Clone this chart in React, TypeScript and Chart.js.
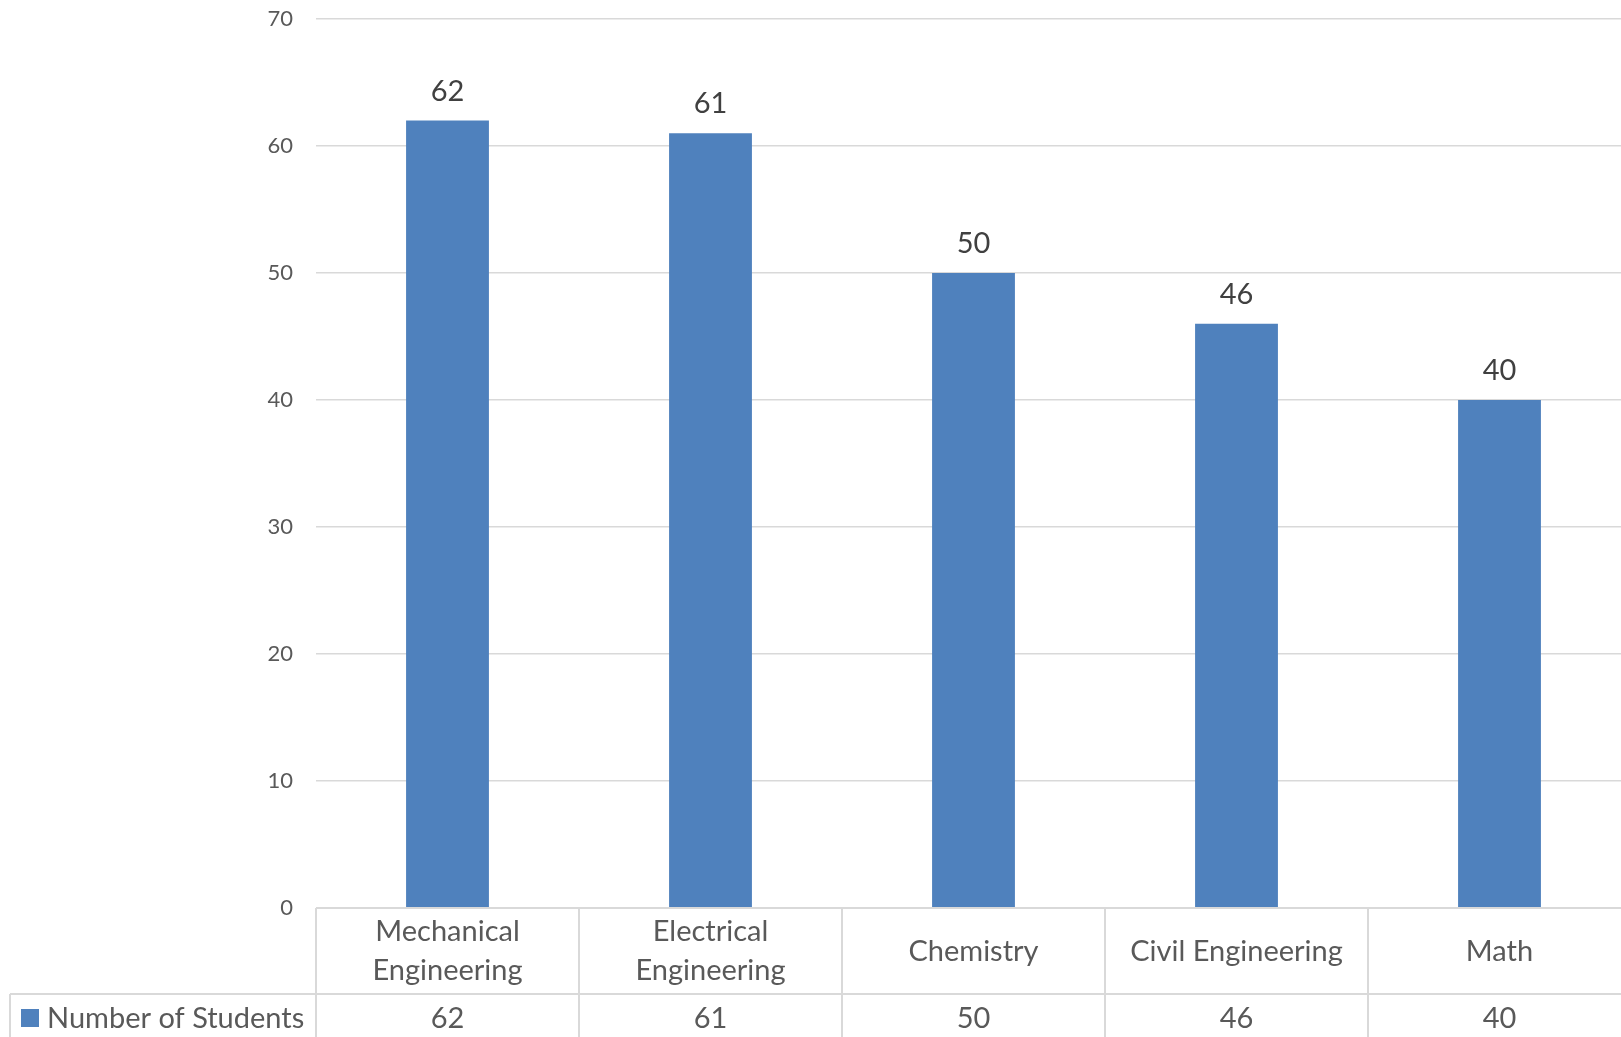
import React, { useEffect, useRef } from "react";
import { Chart, registerables } from "chart.js";

Chart.register(...registerables);

// ---- data ----
const categories = [
  "Mechanical Engineering",
  "Electrical Engineering",
  "Chemistry",
  "Civil Engineering",
  "Math",
];
const categoryLines = [
  ["Mechanical", "Engineering"],
  ["Electrical", "Engineering"],
  ["Chemistry"],
  ["Civil Engineering"],
  ["Math"],
];
const studentCounts = [62, 61, 50, 46, 40];
const seriesName = "Number of Students";
const yMin = 0;
const yMax = 70;
const yStep = 10;

const FONT = "Lato, 'Noto Sans', sans-serif";
const BAR = "#4f81bd";
const GRID = "#d9d9d9";

const dataLabelPlugin = {
  id: "dataLabels",
  afterDatasetsDraw(chart: any) {
    const ctx = chart.ctx;
    const meta = chart.getDatasetMeta(0);
    ctx.save();
    ctx.font = `29px ${FONT}`;
    ctx.fillStyle = "#404040";
    ctx.textAlign = "center";
    ctx.textBaseline = "alphabetic";
    meta.data.forEach((el: any, i: number) => {
      ctx.fillText(String(studentCounts[i]), el.x, el.y - 20);
    });
    ctx.restore();
  },
};

const dataTablePlugin = {
  id: "dataTable",
  afterDraw(chart: any) {
    const ctx = chart.ctx;
    const area = chart.chartArea;
    const xs = chart.scales.x;
    const n = categories.length;
    const catW = (area.right - area.left) / n;
    const top = area.bottom;
    const rowLine = top + 86;
    const bottom = chart.height;
    const right = chart.width;
    const tableLeft = 10;

    ctx.save();
    ctx.strokeStyle = GRID;
    ctx.lineWidth = 2;
    const line = (x1: number, y1: number, x2: number, y2: number) => {
      ctx.beginPath();
      ctx.moveTo(x1, y1);
      ctx.lineTo(x2, y2);
      ctx.stroke();
    };
    line(area.left, top, right, top);
    line(tableLeft, rowLine, right, rowLine);
    line(tableLeft, rowLine, tableLeft, bottom);
    for (let i = 0; i < n; i++) {
      const cx = xs.getPixelForValue(i);
      line(cx - catW / 2, top, cx - catW / 2, bottom);
      if (i === n - 1) line(cx + catW / 2, top, cx + catW / 2, bottom);
    }

    // category labels
    ctx.font = `29px ${FONT}`;
    ctx.fillStyle = "#595959";
    ctx.textAlign = "center";
    ctx.textBaseline = "alphabetic";
    const lineH = 39;
    const midBase = top + 52.5;
    for (let i = 0; i < n; i++) {
      const cx = xs.getPixelForValue(i);
      const lines = categoryLines[i];
      const start = midBase - ((lines.length - 1) * lineH) / 2;
      lines.forEach((t, j) => ctx.fillText(t, cx, start + j * lineH));
    }

    // values row
    const valBase = rowLine + 33.5;
    for (let i = 0; i < n; i++) {
      const cx = xs.getPixelForValue(i);
      ctx.fillText(String(studentCounts[i]), cx, valBase);
    }

    // legend key
    ctx.fillStyle = BAR;
    ctx.fillRect(21, rowLine + 15, 18, 18);
    ctx.fillStyle = "#595959";
    ctx.textAlign = "left";
    ctx.fillText(seriesName, 47, valBase);
    ctx.restore();
  },
};

export default function App() {
  const canvasRef = useRef<HTMLCanvasElement | null>(null);

  useEffect(() => {
    if (!canvasRef.current) return;
    const chart = new Chart(canvasRef.current, {
      type: "bar",
      data: {
        labels: categories,
        datasets: [
          {
            label: seriesName,
            data: studentCounts,
            backgroundColor: BAR,
            borderWidth: 0,
            categoryPercentage: 1,
            barPercentage: 0.315,
          },
        ],
      },
      options: {
        animation: false,
        responsive: true,
        maintainAspectRatio: false,
        devicePixelRatio: 1,
        layout: { padding: { left: 0, right: 0, top: 19, bottom: 137 } },
        plugins: {
          legend: { display: false },
          tooltip: { enabled: false },
          title: { display: false },
        },
        scales: {
          x: { display: false },
          y: {
            min: yMin,
            max: yMax,
            ticks: {
              stepSize: yStep,
              color: "#595959",
              font: { family: FONT, size: 22 },
              padding: 0,
            },
            grid: {
              color: GRID,
              lineWidth: 1.5,
              drawTicks: true,
              tickLength: 23,
              tickColor: "rgba(0,0,0,0)",
            },
            border: { display: false },
            afterFit: (scale: any) => {
              scale.width = 316;
            },
          },
        },
      },
      plugins: [dataLabelPlugin, dataTablePlugin],
    });
    return () => chart.destroy();
  }, []);

  return (
    <div
      style={{
        position: "fixed",
        left: 0,
        top: 0,
        width: 1621,
        height: 1037,
        overflow: "hidden",
        background: "#ffffff",
      }}
    >
      <div style={{ position: "absolute", left: 0, top: 0, width: 1631, height: 1045 }}>
        <canvas ref={canvasRef} />
      </div>
    </div>
  );
}
